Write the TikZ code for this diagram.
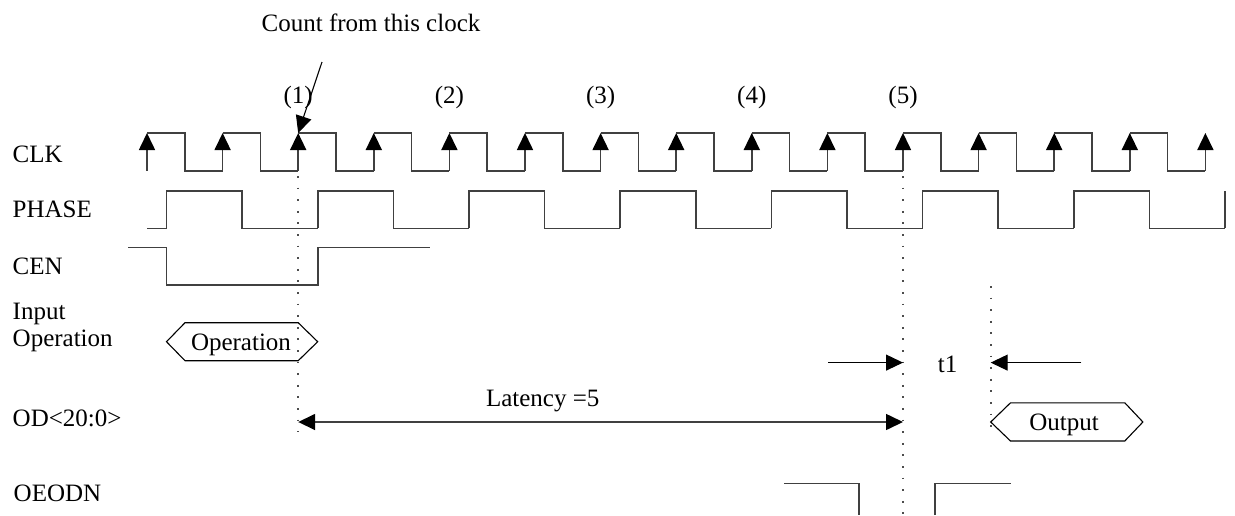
\documentclass[tikz,border=0pt]{standalone}
\usepackage{fontspec}
\setmainfont{Liberation Serif}
\usetikzlibrary{arrows.meta}
\begin{document}
\begin{tikzpicture}[x=1pt,y=-1pt,
  font=\fontsize{25}{30}\selectfont,
  bigtip/.tip={Triangle[length=17pt,width=16pt,color=black]},
  wave/.style={draw=black!75,line width=1.6pt},
  thinl/.style={draw=black,line width=1.1pt},
  hexl/.style={draw=black,line width=1.1pt},
  dotl/.style={draw=black!70,line width=1.6pt,dash pattern=on 1.8pt off 9.8pt},
  lbl/.style={anchor=base west,inner sep=0pt},
  txt/.style={anchor=base,inner sep=0pt}]
\useasboundingbox (0,0) rectangle (1235,515);

% signal labels
\node[lbl] (lclk) at (12.5,162.7) {CLK};
\node[lbl] (lphase) at (12.5,217.3) {PHASE};
\node[lbl] (lcen) at (12.5,274) {CEN};
\node[lbl] (linput) at (12.5,319) {Input};
\node[lbl] (lop) at (12.5,346.7) {Operation};
\node[lbl] (lod) at (12.5,426) {OD<20:0>};
\node[lbl] (loe) at (13.5,501.7) {OEODN};

% CLK waveform with arrows on rising edges
\foreach \k in {0,...,14}{
  \pgfmathsetmacro\r{147+75.6*\k}
  \coordinate (e\k) at (\r,133);
  \draw[wave,-{bigtip}] (\r,170.7) -- (\r,133);
}
\foreach \k in {0,...,13}{
  \pgfmathsetmacro\r{147+75.6*\k}
  \pgfmathsetmacro\f{\r+37.8}
  \pgfmathsetmacro\n{\r+75.6}
  \draw[wave] (\r,133) -- (\f,133) -- (\f,170.7) -- (\n,170.7);
}

% count labels
\node[txt] (n1) at (298.2,103) {(1)};
\node[txt] (n2) at (449.4,103) {(2)};
\node[txt] (n3) at (600.6,103) {(3)};
\node[txt] (n4) at (751.8,103) {(4)};
\node[txt] (n5) at (903,103) {(5)};

% PHASE waveform
\draw[wave] (147,228.3) -- (166.5,228.3);
\foreach \j in {0,...,6}{
  \pgfmathsetmacro\a{166.5+151.2*\j}
  \pgfmathsetmacro\b{\a+75.6}
  \pgfmathsetmacro\c{\a+151.2}
  \draw[wave] (\a,228.3) -- (\a,191) -- (\b,191) -- (\b,228.3) -- (\c,228.3);
}
\draw[wave] (1224.9,228.3) -- (1224.9,191);

% CEN waveform
\draw[wave] (128.3,247.3) -- (166.5,247.3) -- (166.5,285) -- (317.7,285) -- (317.7,247.3) -- (430,247.3);

% Operation hexagon
\draw[hexl] (166.5,341.7) -- (185,322.7) -- (298.2,322.7) -- (317.7,341.7) -- (298.2,360.7) -- (185,360.7) -- cycle;
\node[txt] (op) at (241,350) {Operation};

% count-from arrow
\node[txt] (cnt) at (371,31.4) {Count from this clock};
\coordinate (cs) at (322,62);
\draw[thinl,-{bigtip}] (cs) -- (e2);

% dotted reference lines
\coordinate (d1a) at (298.2,176);
\coordinate (d1b) at (298.2,432);
\coordinate (d2a) at (903,176);
\coordinate (d2b) at (903,515);
\coordinate (d3a) at (990.7,286);
\coordinate (d3b) at (990.7,432);
\draw[dotl] (d1a) -- (d1b);
\draw[dotl] (d2a) -- (d2b);
\draw[dotl] (d3a) -- (d3b);

% latency arrow
\coordinate (la) at (298.2,422);
\coordinate (lb) at (903,422);
\draw[wave,{bigtip}-{bigtip}] (la) -- (lb);
\node[txt] (lat) at (542.7,406.7) {Latency =5};

% t1 arrows
\coordinate (t1a) at (828,362.6);
\coordinate (t1b) at (903,362.6);
\coordinate (t1c) at (1081.4,362.6);
\coordinate (t1d) at (990.7,362.6);
\draw[thinl,-{bigtip}] (t1a) -- (t1b);
\draw[thinl,-{bigtip}] (t1c) -- (t1d);
\node[txt] (t1) at (947.7,372) {t1};

% Output hexagon
\draw[hexl] (990.7,422) -- (1010.5,402.8) -- (1124.8,402.8) -- (1142.9,422) -- (1124.8,441) -- (1010.5,441) -- cycle;
\node[txt] (out) at (1064,430) {Output};

% OEODN
\draw[wave] (784.3,483.4) -- (859,483.4) -- (859,515);
\draw[wave] (934.7,515) -- (934.7,483.4) -- (1010.5,483.4);
\end{tikzpicture}
\end{document}
